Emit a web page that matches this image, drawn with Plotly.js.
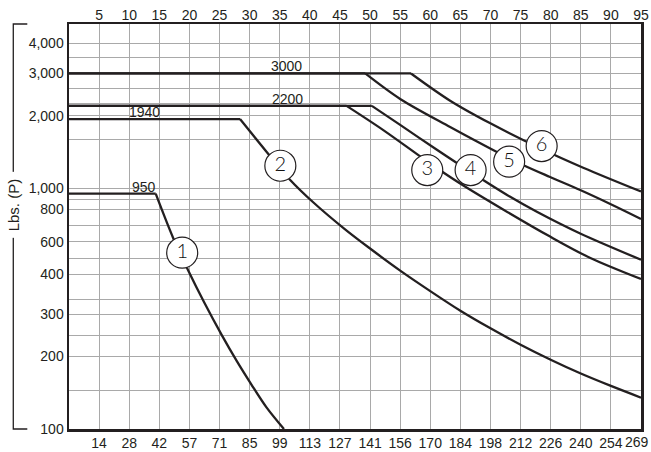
<!DOCTYPE html>
<html><head><meta charset="utf-8">
<script src="https://cdn.plot.ly/plotly-3.0.1.min.js"></script>
<style>html,body{margin:0;padding:0;background:#fff}#chart{width:651px;height:452px}</style>
</head><body><div id="chart"></div>
<script>
// ---- data ----
const topTickVals = [5,10,15,20,25,30,35,40,45,50,55,60,65,70,75,80,85,90,95];
const topTickText = ['5','10','15','20','25','30','35','40','45','50','55','60','65','70','75','80','85','90','95'];
const bottomTickText = ['14','28','42','57','71','85','99','113','127','141','156','170','184','198','212','226','240','254','269'];
const yGridVals = [100,145,200,245,300,345,440,510,600,700,820,900,1000,1600,2000,2250,2600,3000,3500,4000];
const yTickText = ['100','','200','','300','','400','','600','','800','','1,000','','2,000','','','3,000','','4,000'];

const curve1X = [0,14.4,17.3,19.8,22.4,25.4,27.9,30.3,32.8,35.7];
const curve1Y = [950,950,622,456,338,245,191,153,123,100];
const curve2X = [0,28.4,32.8,36.7,40.6,45.8,50,55,60,65,70,75,80,85,90,95];
const curve2Y = [1940,1940,1420,1086,873,677,562,455,374,310,262,224,194,170,151,135];
const curve3X = [0,46.1,52.2,59.5,64.9,72.1,79.9,86.5,95];
const curve3Y = [2200,2200,1745,1293,1050,817,630,515,420];
const curve4X = [0,50.3,55,61.1,66.7,73.2,77.7,84.9,95];
const curve4Y = [2200,2200,1835,1445,1169,924,799,649,505];
const curve5X = [0,49.2,55,63.3,70.75,75.4,79.9,84.9,89.9,95];
const curve5Y = [3000,3000,2350,1797,1429,1250,1114,984,861,746];
const curve6X = [0,56.8,63.3,69.9,78.5,85.4,95];
const curve6Y = [3000,3000,2312,1866,1457,1218,970];

const curveIds = ['1','2','3','4','5','6'];
const idX = [18.8,35.1,59.5,66.7,73.1,78.5];
const idY = [540,1241,1191,1191,1290,1498];

const ratedLoadText = ['950','1940','2200','3000'];
const ratedLoadVal = [950,1940,2200,3000];
const ratedLoadX = [12.4,12.5,36.3,36.2];

const yTitle = 'Lbs. (P)';

// ---- chart ----
const INK = '#231f20';
const curves = [[curve1X,curve1Y],[curve2X,curve2Y],[curve3X,curve3Y],[curve4X,curve4Y],[curve5X,curve5Y],[curve6X,curve6Y]];
const traces = [];
curves.forEach(c => {
  // rated (flat) part
  traces.push({x: c[0].slice(0, 2), y: c[1].slice(0, 2), type: 'scatter', mode: 'lines',
    line: {color: INK, width: 2.3}, hoverinfo: 'skip'});
  // falling part
  traces.push({x: c[0].slice(1), y: c[1].slice(1), type: 'scatter', mode: 'lines',
    line: {color: INK, width: 2.3, shape: 'spline', smoothing: 0.9}, hoverinfo: 'skip'});
});
traces.push({
  x: idX, y: idY, xaxis: 'x2', yaxis: 'y', type: 'scatter', mode: 'markers+text',
  text: curveIds, textposition: 'middle center',
  textfont: {family: 'Lato, Arial, sans-serif', size: 20, weight: 300, color: '#111'},
  marker: {size: 31, color: '#fff', line: {color: INK, width: 1.2}},
  hoverinfo: 'skip', cliponaxis: false
});

const lastIdx = bottomTickText.length - 1;
const bottomShown = bottomTickText.map((t, i) => i === lastIdx ? '' : t);

const annotations = ratedLoadText.map((t, i) => ({
  x: ratedLoadX[i], y: Math.log10(ratedLoadVal[i]), xref: 'x', yref: 'y',
  text: t, showarrow: false, yanchor: 'middle', yshift: 7,
  font: {size: 14, color: INK}
}));
annotations.push({
  x: -0.0974, y: 0.553, xref: 'paper', yref: 'paper', text: yTitle,
  textangle: -90, showarrow: false, bgcolor: '#fff', borderpad: 6,
  font: {size: 15, color: INK}, xanchor: 'center', yanchor: 'middle'
});
// last bottom tick label, kept inside the page edge
annotations.push({
  x: 1.0155, y: -0.032, xref: 'paper', yref: 'paper', text: bottomTickText[lastIdx],
  showarrow: false, xanchor: 'right', yanchor: 'middle', borderpad: 0,
  font: {size: 14, color: INK}
});

const layout = {
  width: 651, height: 452,
  margin: {l: 69, r: 10, t: 24, b: 23, pad: 0},
  paper_bgcolor: '#fff', plot_bgcolor: '#fff',
  showlegend: false,
  font: {family: 'Arial, "Liberation Sans", sans-serif', size: 14, color: INK},
  xaxis: {range: [0, 95], tickmode: 'array', tickvals: topTickVals, ticktext: bottomShown,
    showgrid: true, gridcolor: '#a9a9a9', gridwidth: 1, zeroline: false, ticklabeloverflow: 'allow',
    showline: true, linecolor: INK, linewidth: 2.5, mirror: true, ticks: '', fixedrange: true},
  xaxis2: {range: [0, 95], overlaying: 'x', side: 'top', anchor: 'y', tickmode: 'array',
    tickvals: topTickVals, ticktext: topTickText, showgrid: false, zeroline: false, ticklabeloverflow: 'allow',
    showline: false, ticks: '', fixedrange: true},
  yaxis: {type: 'log', range: [2, 3.6826], tickmode: 'array', tickvals: yGridVals, ticktext: yTickText,
    showgrid: true, gridcolor: '#a9a9a9', gridwidth: 1, zeroline: false, ticklabeloverflow: 'allow',
    showline: true, linecolor: INK, linewidth: 2.5, mirror: true, ticks: '', fixedrange: true},
  shapes: [{
    type: 'path', xref: 'paper', yref: 'paper',
    path: 'M -0.0729,1 L -0.0974,1 L -0.0974,0 L -0.0729,0',
    line: {color: INK, width: 1.3}
  }],
  annotations: annotations
};

Plotly.newPlot('chart', traces, layout, {staticPlot: true, displayModeBar: false});
</script>
</body></html>
